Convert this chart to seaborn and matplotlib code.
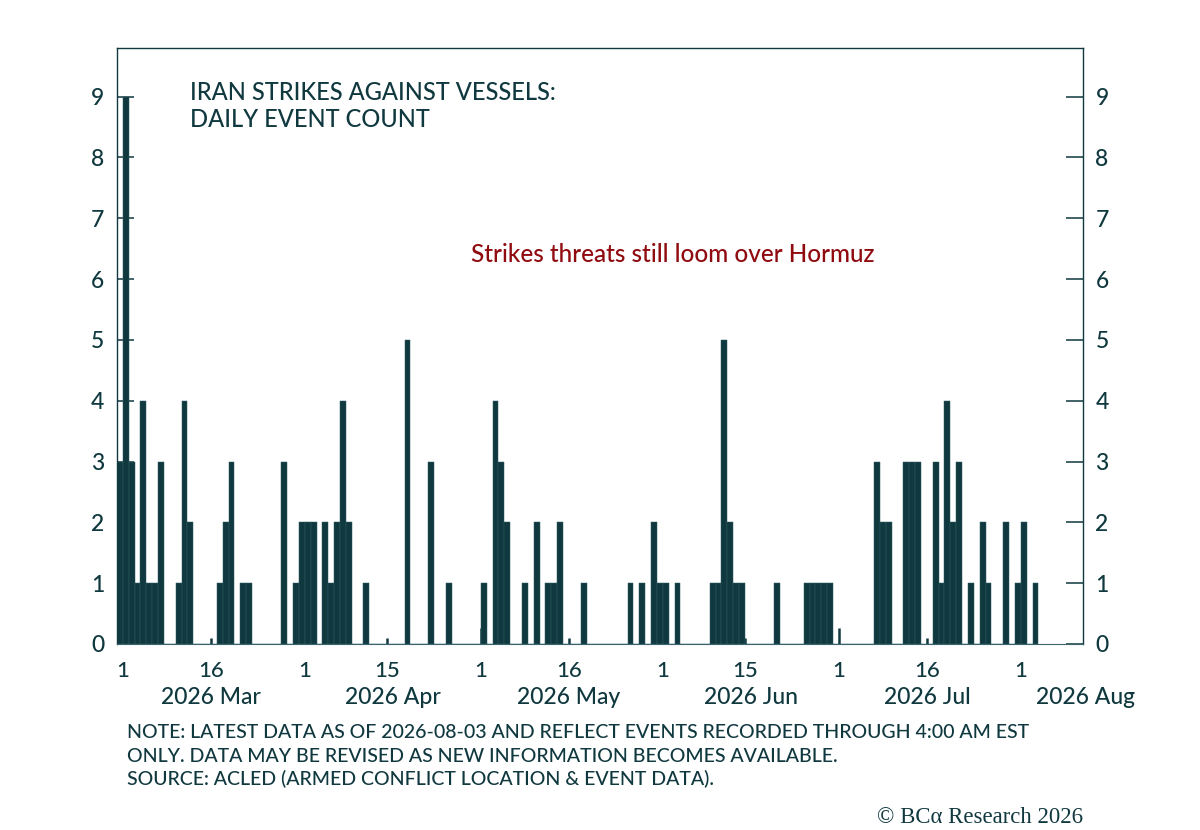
import matplotlib
matplotlib.use("Agg")
import matplotlib.pyplot as plt
import matplotlib.dates as mdates
from matplotlib.ticker import FixedLocator, FuncFormatter
import pandas as pd
import seaborn as sns

TEAL = "#10383f"
RED = "#900b0f"

# daily event counts (first day is 2026-02-28)
start_date = "2026-02-28"
feb_counts = [3]
mar_counts = [9, 3, 1, 4, 1, 1, 3, 0, 0, 1,
              4, 2, 0, 0, 0, 0, 1, 2, 3, 0,
              1, 1, 0, 0, 0, 0, 0, 3, 0, 1,
              2]
apr_counts = [2, 2, 0, 2, 1, 2, 4, 2, 0, 0,
              1, 0, 0, 0, 0, 0, 0, 5, 0, 0,
              0, 3, 0, 0, 1, 0, 0, 0, 0, 0]
may_counts = [1, 0, 4, 3, 2, 0, 0, 1, 0, 2,
              0, 1, 1, 2, 0, 0, 0, 1, 0, 0,
              0, 0, 0, 0, 0, 1, 0, 1, 0, 2,
              1]
jun_counts = [1, 0, 1, 0, 0, 0, 0, 0, 1, 1,
              5, 2, 1, 1, 0, 0, 0, 0, 0, 1,
              0, 0, 0, 0, 1, 1, 1, 1, 1, 0]
jul_counts = [0, 0, 0, 0, 0, 0, 3, 2, 2, 0,
              0, 3, 3, 3, 0, 0, 3, 1, 4, 2,
              3, 0, 1, 0, 2, 1, 0, 0, 2, 0,
              1]
aug_counts = [2, 0, 1]

mid_month_ticks = ["2026-03-16", "2026-04-15", "2026-05-16",
                   "2026-06-15", "2026-07-16"]
month_labels = ["2026 Mar", "2026 Apr", "2026 May",
                "2026 Jun", "2026 Jul", "2026 Aug"]
month_label_dates = ["2026-03-16", "2026-04-16", "2026-05-16",
                     "2026-06-16", "2026-07-16", "2026-08-12"]

counts = (feb_counts + mar_counts + apr_counts + may_counts
          + jun_counts + jul_counts + aug_counts)
dates = pd.date_range(start_date, periods=len(counts), freq="D")

# shift by half a day so each bar covers its own calendar day
df = pd.DataFrame({
    "day": mdates.date2num(dates) + 0.5,
    "events": counts
})
first_edge = float(mdates.date2num(dates[0]))
last_edge = float(mdates.date2num(dates[-1])) + 1

sns.set_theme(style="ticks")
plt.rcParams["font.family"] = ["Lato", "DejaVu Sans"]
plt.rcParams["font.weight"] = "medium"

fig = plt.figure(figsize=(12, 8.3), dpi=100)
ax = fig.add_axes([0.0975, 0.2241, 0.805, 0.7181])

sns.histplot(
    data=df,
    x="day",
    weights="events",
    binwidth=1,
    binrange=(first_edge, last_edge),
    color=TEAL,
    alpha=1,
    edgecolor="#2f5b63",
    linewidth=0.35,
    ax=ax
)

ax.set_xlim(mdates.date2num(pd.Timestamp("2026-02-28")),
            mdates.date2num(pd.Timestamp("2026-08-11")) + 0.6)
ax.set_ylim(0, 9.8)
ax.set_yticks(range(10))
ax.set_xlabel("")
ax.set_ylabel("")

day_fmt = FuncFormatter(lambda x, _: str(mdates.num2date(x).day))
ax.xaxis.set_major_locator(mdates.DayLocator(bymonthday=1))
ax.xaxis.set_major_formatter(day_fmt)
ax.xaxis.set_minor_locator(
    FixedLocator(mdates.date2num(pd.to_datetime(mid_month_ticks)))
)
ax.xaxis.set_minor_formatter(day_fmt)

ax.tick_params(axis="x", which="both", direction="in", colors=TEAL,
               labelsize=16, pad=12, width=1.8)
ax.tick_params(axis="x", which="major", length=11.5)
ax.tick_params(axis="x", which="minor", length=4.3)
ax.tick_params(axis="y", which="both", direction="in", colors=TEAL,
               left=True, right=True, labelleft=True, labelright=True,
               length=12, width=1.1, pad=9, labelsize=16.5)

for side in ["left", "right", "top"]:
    ax.spines[side].set_color(TEAL)
    ax.spines[side].set_linewidth(1.0)
ax.spines["bottom"].set_color("#3b646c")
ax.spines["bottom"].set_linewidth(0.8)

xtrans = ax.get_xaxis_transform()
for label, d in zip(month_labels, month_label_dates):
    ax.text(mdates.date2num(pd.Timestamp(d)), -0.089, label,
            transform=xtrans, ha="center", va="center",
            fontsize=16.5, color=TEAL)

fig.text(190 / 1200, 1 - 81 / 830,
         "IRAN STRIKES AGAINST VESSELS:\nDAILY EVENT COUNT",
         ha="left", va="top", fontsize=17, color=TEAL, linespacing=1.2)

fig.text(471 / 1200, 1 - 254 / 830,
         "Strikes threats still loom over Hormuz",
         ha="left", va="center", fontsize=17.5, color=RED)

notes = [
    "NOTE: LATEST DATA AS OF 2026-08-03 AND REFLECT EVENTS RECORDED THROUGH 4:00 AM EST",
    "ONLY. DATA MAY BE REVISED AS NEW INFORMATION BECOMES AVAILABLE.",
    "SOURCE: ACLED (ARMED CONFLICT LOCATION & EVENT DATA).",
]
for k, line in enumerate(notes):
    fig.text(127 / 1200, 1 - (733 + 23 * k) / 830, line,
             ha="left", va="center", fontsize=14, color=TEAL)

fig.text(1083 / 1200, 1 - 817 / 830, "\u00a9 BC\u03b1 Research 2026",
         ha="right", va="center", fontsize=16.4, fontweight="normal",
         family=["Liberation Serif", "DejaVu Serif"], color=TEAL)

fig.savefig("out.png", dpi=100)
plt.close(fig)
